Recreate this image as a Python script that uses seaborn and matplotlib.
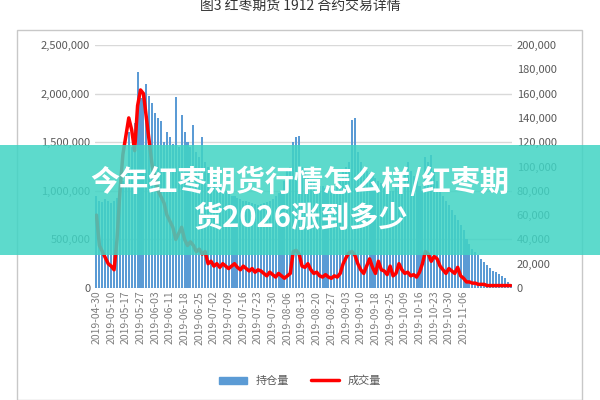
import matplotlib
matplotlib.use('Agg')
import matplotlib.pyplot as plt
import seaborn as sns
import numpy as np
import pandas as pd
from matplotlib.patches import Rectangle, Patch
from matplotlib.lines import Line2D
from matplotlib.ticker import FuncFormatter

sns.set_theme(style='white')
plt.rcParams['font.family'] = ['Noto Sans CJK SC', 'DejaVu Sans']

# ─── Data ───
tick_labels = ['2019-04-30', '2019-05-10', '2019-05-17', '2019-05-27', '2019-06-03',
               '2019-06-11', '2019-06-18', '2019-06-25', '2019-07-02', '2019-07-09',
               '2019-07-16', '2019-07-23', '2019-07-30', '2019-08-06', '2019-08-13',
               '2019-08-20', '2019-08-27', '2019-09-03', '2019-09-10', '2019-09-18',
               '2019-09-25', '2019-10-09', '2019-10-16', '2019-10-23', '2019-10-30',
               '2019-11-06']

# 持仓量 (thousands)
open_interest = [
    950, 900, 880, 920, 900, 870, 890, 930, 1000, 1100,
    1250, 1600, 1450, 1700, 2220, 1950, 2000, 2100, 1980,
    1900, 1800, 1750, 1720, 1500, 1600, 1550, 1480, 1960,
    1450, 1780, 1600, 1500, 1450, 1680, 1400, 1350, 1550, 1300,
    1250, 1200, 1150, 1100, 1050, 1000, 1000, 980, 950,
    950, 930, 920, 900, 900, 880, 870, 860, 850,
    860, 870, 880, 900, 920, 950, 980, 1000, 1100, 1200,
    1250, 1500, 1550, 1560, 1250, 1200, 1150, 1100, 1100,
    1080, 1050, 1050, 1030, 1000, 1000, 1020, 1050, 1100,
    1200, 1250, 1300, 1730, 1750, 1400, 1300, 1250, 1200, 1180,
    1150, 1130, 1100, 1080, 1050, 1030, 1000, 1000, 1050,
    1100, 1150, 1250, 1300, 1200, 1150, 1100, 1050, 1000,
    1350, 1300, 1370, 1200, 1100, 1000, 950, 900, 850, 800,
    750, 700, 650, 600, 500, 450, 400, 370, 340,
    300, 270, 240, 210, 180, 160, 140, 120, 100, 60, 40]

# 成交量 (thousands)
volume = [
    60, 35, 30, 25, 20, 18, 15, 40, 80, 110,
    125, 140, 130, 113, 150, 163, 160, 140, 120,
    100, 90, 80, 75, 70, 60, 55, 50, 40,
    45, 50, 40, 35, 38, 35, 30, 32, 28, 30,
    20, 22, 18, 20, 17, 20, 18, 16, 18,
    20, 17, 15, 18, 16, 14, 16, 13, 15,
    14, 12, 10, 13, 11, 9, 12, 10, 8, 10,
    12, 30, 31, 28, 18, 17, 20, 15, 12,
    13, 10, 9, 11, 9, 8, 10, 9, 12,
    20, 25, 29, 30, 27, 20, 15, 12, 18, 24,
    17, 12, 22, 15, 14, 11, 18, 10, 12,
    20, 15, 12, 13, 10, 11, 9, 13, 20,
    30, 28, 22, 26, 24, 18, 15, 12, 16, 14,
    12, 17, 10, 8, 5, 5, 4, 4, 3,
    3, 3, 2, 2, 2, 2, 2, 2, 2, 2, 2]

df = pd.DataFrame({'idx': np.arange(len(open_interest)),
                   'oi': np.array(open_interest) * 1000,
                   'vol': np.array(volume) * 1000})

# ─── Plot ───
fig = plt.figure(figsize=(6, 4), dpi=100)
fig.patches.append(Rectangle((17 / 600, 0.0), 565 / 600, 1 - 30 / 400, transform=fig.transFigure,
                             fill=False, edgecolor='#c8c8c8', linewidth=1))
ax = fig.add_axes([95 / 600, 1 - 288 / 400, 417 / 600, 243 / 400])
sns.barplot(data=df, x='idx', y='oi', color='#5b9bd5', width=0.7, saturation=1,
            linewidth=0, ax=ax)
ax.set_ylim(0, 2500000)
ax.set_yticks(np.arange(0, 2500001, 500000))
ax.yaxis.set_major_formatter(FuncFormatter(lambda v, p: f'{int(v):,}'))
ax.yaxis.grid(True, color='#d9d9d9', linewidth=1)
ax.set_axisbelow(True)
ax.set_xlim(-0.5, len(df) - 0.5)
ax.set_xticks(np.arange(0, len(tick_labels) * 5, 5))
ax.set_xticklabels(tick_labels, rotation=90, fontsize=7.5, color='#7f7f7f')
ax.set_xlabel('')
ax.set_ylabel('')
ax.tick_params(axis='y', labelsize=8, colors='#595959', length=0)
ax.tick_params(axis='x', length=0, pad=2)
for s in ax.spines.values():
    s.set_visible(False)

ax2 = ax.twinx()
sns.lineplot(data=df, x='idx', y='vol', color='#ff0000', linewidth=2.5, ax=ax2)
ax2.set_ylim(0, 200000)
ax2.set_yticks(np.arange(0, 200001, 20000))
ax2.yaxis.set_major_formatter(FuncFormatter(lambda v, p: f'{int(v):,}'))
ax2.set_ylabel('')
ax2.tick_params(axis='y', labelsize=8, colors='#595959', length=0)
for s in ax2.spines.values():
    s.set_visible(False)

fig.text(0.5, 0.985, '图3 红枣期货 1912 合约交易详情', ha='center', va='center',
         fontsize=10, color='#333333')

# legend
handles = [Patch(color='#5b9bd5', label='持仓量'),
           Line2D([], [], color='#ff0000', lw=2.5, label='成交量')]
fig.legend(handles=handles, loc='center', bbox_to_anchor=(0.5, 1 - 381 / 400), ncol=2,
           frameon=False, fontsize=8, handlelength=2.5, labelcolor='#595959')

# banner overlay
fig.patches.append(Rectangle((0, 1 - 255 / 400), 1, 110 / 400, transform=fig.transFigure,
                             facecolor='#40d4c4', alpha=0.85, edgecolor='none', zorder=10))
fig.text(0.5, 1 - 182 / 400, '今年红枣期货行情怎么样/红枣期', ha='center', va='center',
         fontsize=21, fontweight='bold', color='white', zorder=11)
fig.text(0.5, 1 - 218 / 400, '货2026涨到多少', ha='center', va='center',
         fontsize=21, fontweight='bold', color='white', zorder=11)

fig.savefig('out.png', dpi=100)
